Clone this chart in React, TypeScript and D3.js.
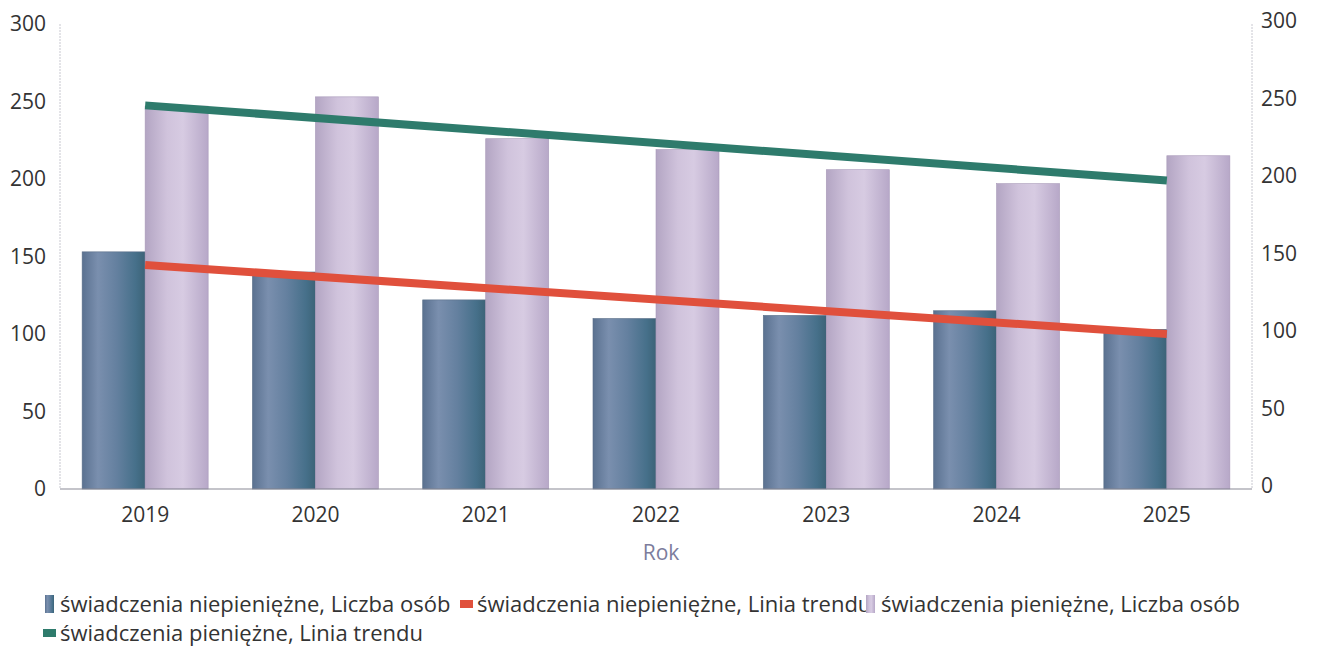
import React from "react";
import * as d3 from "d3";

const years = ["2019", "2020", "2021", "2022", "2023", "2024", "2025"];
const niepieniezne = [153, 140, 122, 110, 112, 115, 103];
const pieniezne = [247, 253, 226, 219, 206, 197, 215];
// trend line endpoints (2019, 2025)
const trendYears = ["2019", "2025"];
const trendNiepieniezne = [144.5, 100];
const trendPieniezne = [247.5, 199];
const yTicks = [0, 50, 100, 150, 200, 250, 300];
const legendItems = [
  { label: "świadczenia niepieniężne, Liczba osób", kind: "bar", fill: "url(#gDark)" },
  { label: "świadczenia niepieniężne, Linia trendu", kind: "line", fill: "#e0503c" },
  { label: "świadczenia pieniężne, Liczba osób", kind: "bar", fill: "url(#gLight)" },
  { label: "świadczenia pieniężne, Linia trendu", kind: "line", fill: "#2e7b6c" },
];

const W = 1317;
const H = 650;
const left = 60;
const right = 1252;
const top = 24;
const bottom = 489;
const font = "'Open Sans', 'Noto Sans', sans-serif";

export default function App() {
  const x = d3.scaleBand<string>().domain(years).range([left, right]).paddingInner(0.26).paddingOuter(0.13);
  const sub = d3.scaleBand<string>().domain(["a", "b"]).range([0, x.bandwidth()]);
  const y = d3.scaleLinear().domain([0, 300]).range([bottom, top]);
  const cx = (yr: string) => (x(yr) as number) + x.bandwidth() / 2;
  const line = d3
    .line<[string, number]>()
    .x((d) => cx(d[0]))
    .y((d) => y(d[1]));

  const legendPos = [
    { x: 43, y: 604 },
    { x: 460, y: 604 },
    { x: 864, y: 604 },
    { x: 43, y: 633 },
  ];

  return (
    <svg width={W} height={H} style={{ position: "absolute", left: 0, top: 0, background: "#fff" }}>
      <defs>
        <linearGradient id="gDark" x1="0" x2="1" y1="0" y2="0">
          <stop offset="0%" stopColor="#5a7190" />
          <stop offset="25%" stopColor="#7a8fae" />
          <stop offset="55%" stopColor="#64809f" />
          <stop offset="85%" stopColor="#46708a" />
          <stop offset="100%" stopColor="#3c6377" />
        </linearGradient>
        <linearGradient id="gLight" x1="0" x2="1" y1="0" y2="0">
          <stop offset="0%" stopColor="#b3a5c3" />
          <stop offset="35%" stopColor="#d0c3dc" />
          <stop offset="60%" stopColor="#d7cbe2" />
          <stop offset="100%" stopColor="#b7a8c8" />
        </linearGradient>
      </defs>

      {/* axes lines */}
      <line x1={left} x2={left} y1={y(300)} y2={bottom} stroke="#c8c8d0" strokeWidth={1} strokeDasharray="2,1" />
      <line x1={right} x2={right} y1={y(300)} y2={bottom} stroke="#c8c8d0" strokeWidth={1} strokeDasharray="2,1" />

      {/* bars */}
      {years.map((yr, i) => (
        <g key={yr} transform={`translate(${x(yr)},0)`}>
          <rect x={sub("a")} y={y(niepieniezne[i])} width={sub.bandwidth()} height={bottom - y(niepieniezne[i])} fill="url(#gDark)" stroke="#5a6f88" strokeWidth={0.6} />
          <rect x={sub("b")} y={y(pieniezne[i])} width={sub.bandwidth()} height={bottom - y(pieniezne[i])} fill="url(#gLight)" stroke="#a898b8" strokeWidth={0.6} />
        </g>
      ))}

      <line x1={left} x2={right} y1={bottom} y2={bottom} stroke="#8a8a96" strokeWidth={1.2} />

      {/* trend lines */}
      <path d={line(trendYears.map((t, i) => [t, trendPieniezne[i]]) as any) || ""} stroke="#2e7b6c" strokeWidth={8} fill="none" />
      <path d={line(trendYears.map((t, i) => [t, trendNiepieniezne[i]]) as any) || ""} stroke="#e0503c" strokeWidth={8} fill="none" />

      {/* left ticks */}
      {yTicks.map((t) => (
        <text key={"l" + t} x={46} y={y(t)} dy="0.35em" textAnchor="end" fontFamily={font} fontSize={21} fill="#333">
          {t}
        </text>
      ))}
      {yTicks.map((t) => (
        <text key={"r" + t} x={1261} y={y(t) - 3} dy="0.35em" textAnchor="start" fontFamily={font} fontSize={21} fill="#333">
          {t}
        </text>
      ))}

      {/* x labels */}
      {years.map((yr) => (
        <text key={"x" + yr} x={cx(yr)} y={515} dy="0.35em" textAnchor="middle" fontFamily={font} fontSize={21} fill="#333">
          {yr}
        </text>
      ))}
      <text x={661} y={553} dy="0.35em" textAnchor="middle" fontFamily={font} fontSize={21} fill="#7c7c9c">
        Rok
      </text>

      {/* legend */}
      {legendItems.map((it, i) => {
        const p = legendPos[i];
        return (
          <g key={it.label} transform={`translate(${p.x},${p.y})`}>
            {it.kind === "bar" ? (
              <rect x={2} y={-9} width={9} height={18} fill={it.fill} />
            ) : (
              <rect x={0} y={-4} width={13} height={8} fill={it.fill} />
            )}
            <text x={17} y={0} dy="0.35em" fontFamily={font} fontSize={22} fill="#333">
              {it.label}
            </text>
          </g>
        );
      })}
    </svg>
  );
}
